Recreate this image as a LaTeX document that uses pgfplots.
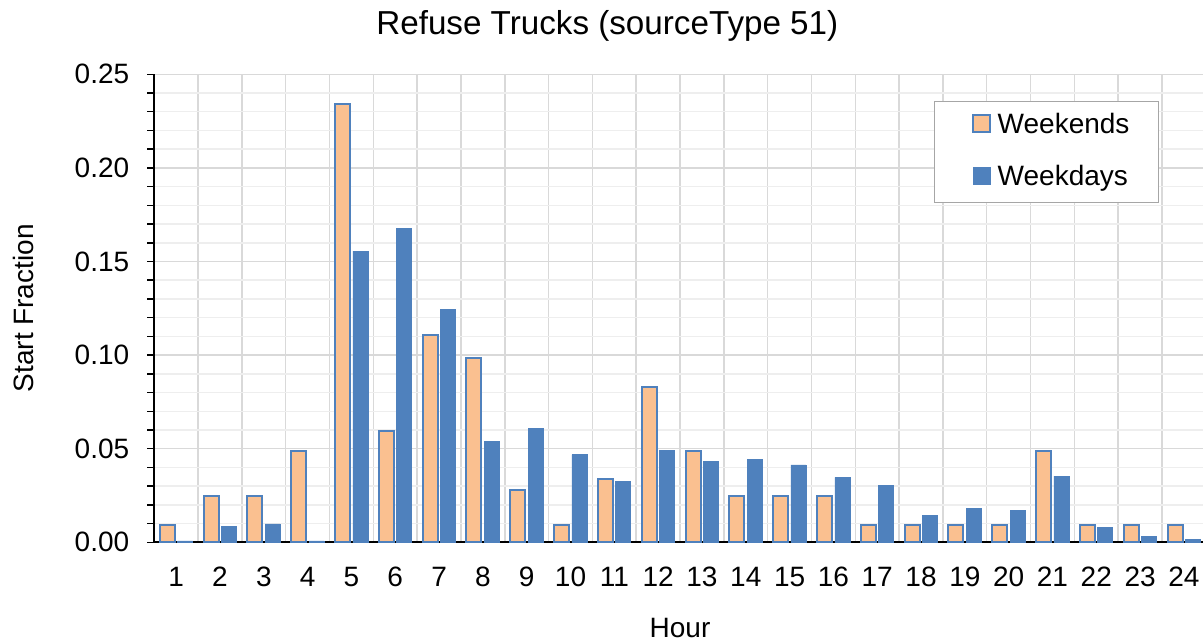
\documentclass[border=0pt]{standalone}
\usepackage{fontspec}
\setmainfont{Liberation Sans}
\usepackage{pgfplots}
\pgfplotsset{compat=1.18}
\definecolor{wkend}{HTML}{FAC090}
\definecolor{wkday}{HTML}{4F81BD}
\definecolor{gridmaj}{HTML}{D9D9D9}
\definecolor{gridmin}{HTML}{EEEEEE}
\definecolor{legframe}{HTML}{A6A6A6}

% start fractions by hour
\pgfplotstableread{
hour weekends weekdays
1  0.0093 0.0008
2  0.0250 0.0085
3  0.0250 0.0098
4  0.0490 0.0008
5  0.2343 0.1556
6  0.0593 0.1677
7  0.1106 0.1245
8  0.0985 0.0540
9  0.0278 0.0607
10 0.0093 0.0468
11 0.0339 0.0327
12 0.0829 0.0493
13 0.0490 0.0431
14 0.0250 0.0445
15 0.0250 0.0413
16 0.0250 0.0347
17 0.0093 0.0303
18 0.0093 0.0142
19 0.0093 0.0183
20 0.0093 0.0171
21 0.0490 0.0353
22 0.0093 0.0080
23 0.0093 0.0032
24 0.0093 0.0014
}\starts

\begin{document}
\begin{tikzpicture}
\path[use as bounding box] (-77.15pt,-50.35pt) rectangle (524.35pt,271.15pt);
\begin{axis}[
    at={(0pt,0pt)}, anchor=south west,
    width=525.75pt, height=234pt, scale only axis,
    font=\fontsize{14}{17}\selectfont,
    ybar=1.4pt, bar width=7.5pt,
    xmin=0.5, xmax=24.5, ymin=0, ymax=0.25,
    enlargelimits=false,
    axis lines*=left,
    axis line style={black, line width=1pt},
    xtick={1,...,24},
    minor xtick={0.5,1.5,...,24.5},
    xtick style={draw=none},
    ytick distance=0.05,
    minor y tick num=4,
    tick align=outside,
    major tick length=3.5pt, minor tick length=3.5pt,
    ytick style={black, line width=0.75pt},
    xminorgrids, ymajorgrids, yminorgrids,
    x grid style={gridmaj, line width=0.75pt},
    major y grid style={gridmaj, line width=0.75pt},
    minor y grid style={gridmin, line width=0.75pt},
    scaled y ticks=false,
    /pgf/number format/assume math mode=true,
    yticklabel style={xshift=-5.5pt, /pgf/number format/fixed, /pgf/number format/fixed zerofill,
        /pgf/number format/precision=2},
    xticklabel style={yshift=-5.2pt},
    xlabel={Hour},
    xlabel style={at={(axis description cs:0.5,-0.183)}, anchor=center},
    ylabel={Start Fraction},
    ylabel style={at={(axis description cs:-0.1248,0.5)}, anchor=center},
    legend style={at={(axis description cs:0.9559,0.9436)}, anchor=north east,
        draw=legframe, line width=0.75pt, fill=white,
        inner xsep=14.6pt, inner ysep=5.5pt, row sep=12.65pt, column sep=3.4pt,
        nodes={inner sep=0pt, text height=10.5pt, text depth=3pt}},
    legend cell align=left,
    every axis plot post/.append style={
        legend image code/.code={\path (0pt,0pt); \draw[##1] (4pt,-3pt) rectangle (12.5pt,5.5pt);}},
]
\addplot[fill=wkend, draw=wkday, line width=1pt] table[x=hour, y=weekends] {\starts};
\addplot[fill=wkday, draw=wkday, line width=0.3pt] table[x=hour, y=weekdays] {\starts};
\legend{Weekends, Weekdays}
\end{axis}
\node[anchor=base, inner sep=0pt, font=\fontsize{16.6}{20}\selectfont] at (226.5pt,253.65pt) {Refuse Trucks (sourceType 51)};
\end{tikzpicture}
\end{document}
